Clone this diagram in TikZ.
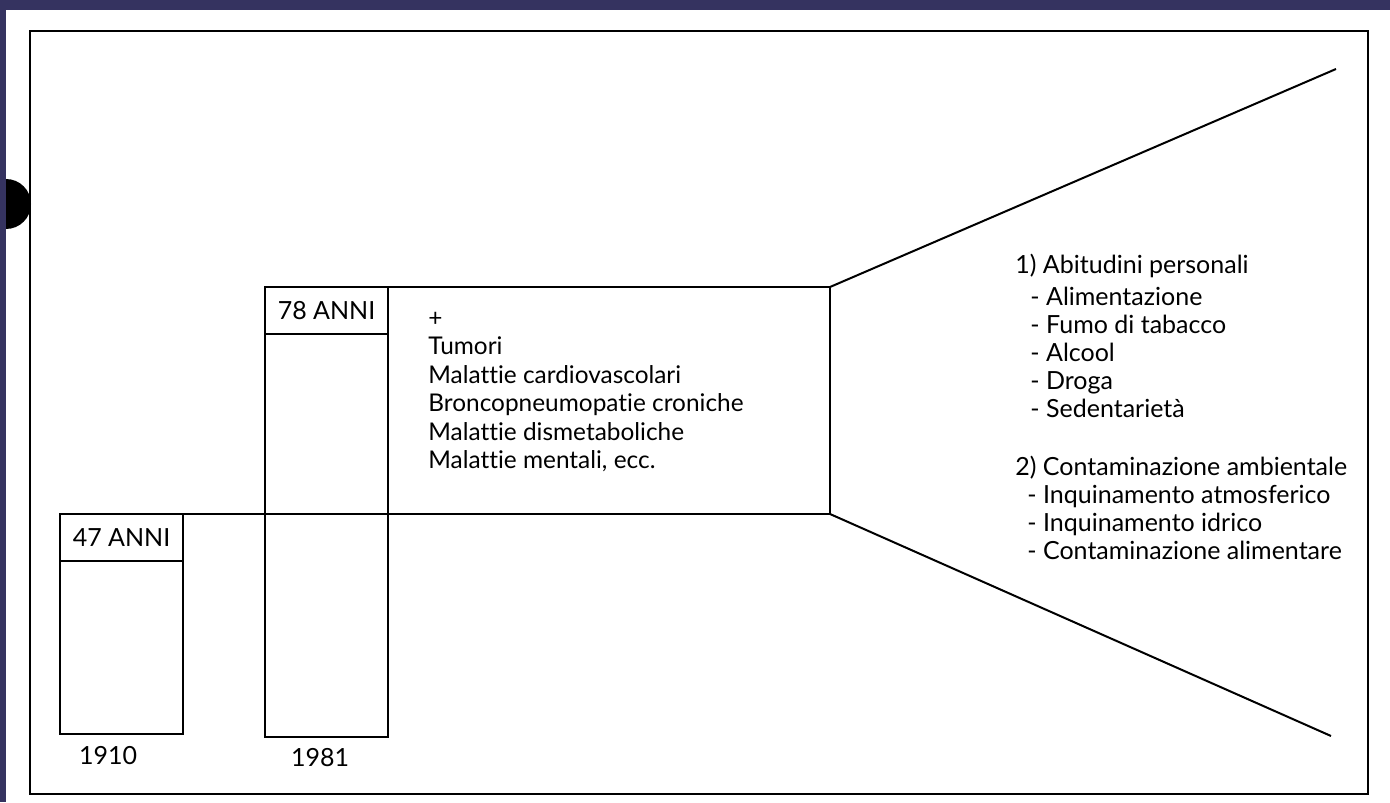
\documentclass[tikz,border=0pt]{standalone}
\usepackage{fontspec}
\setmainfont{Lato}[Ligatures=NoCommon]
\usepackage{xcolor}
\usepackage{tikz}
\usetikzlibrary{positioning}
\definecolor{scanborder}{RGB}{53,51,96}

\begin{document}
\begin{tikzpicture}[x=0.5pt, y=-0.5pt]
\tikzstyle{cell} = [rectangle, draw, line width=1pt, inner sep=0pt, outer sep=0pt, minimum width=61.5pt, font=\fontsize{12.5}{14}\selectfont]
\tikzstyle{txt} = [inner sep=0pt, align=left, font=\fontsize{12.5}{14}\selectfont]
\tikzstyle{fan} = [line width=1pt]

\useasboundingbox (0,0) rectangle (1390,802);
\fill[scanborder] (0,0) rectangle (1390,802);
\fill[white] (6,10) rectangle (1390,802);
\fill[black] (6,204) circle [radius=12.5pt];
\fill[scanborder] (0,10) rectangle (6,802);
\draw[line width=1.2pt] (30,31) rectangle (1368,794);

\node (hdr47) [cell, minimum height=23.5pt, anchor=north west] at (60,514) {47 ANNI};
\node (bar47) [cell, minimum height=86.5pt, below=0pt of hdr47] {};
\node (yr1910) [txt] at (108,756) {1910};

\node (hdr78) [cell, minimum height=23.5pt, anchor=north west] at (265,287) {78 ANNI};
\node (bar78) [cell, minimum height=201.5pt, below=0pt of hdr78] {};
\node (yr1981) [txt] at (320,758) {1981};

\node (causes) [cell, minimum width=221pt, minimum height=113.5pt, anchor=north west] at (hdr78.north east) {};
\node (diseases) [txt, anchor=north west, font=\fontsize{12.2}{14.25}\selectfont] at (428,306) {\strut+\\Tumori\\Malattie cardiovascolari\\Broncopneumopatie croniche\\Malattie dismetaboliche\\Malattie mentali, ecc.};

\coordinate (topend) at (1336,69);
\coordinate (botend) at (1331,736);
\draw [fan] (hdr47.north east) -- (causes.south west);
\draw [fan] (causes.north east) -- (topend);
\draw [fan] (causes.south east) -- (botend);

\node (factors) [txt, anchor=north west] at (1015,253) {\strut1) Abitudini personali\\[2pt]
\hspace*{7.5pt}- Alimentazione\\
\hspace*{7.5pt}- Fumo di tabacco\\
\hspace*{7.5pt}- Alcool\\
\hspace*{7.5pt}- Droga\\
\hspace*{7.5pt}- Sedentarietà\\[15pt]
2) Contaminazione ambientale\\
\hspace*{6pt}- Inquinamento atmosferico\\
\hspace*{6pt}- Inquinamento idrico\\
\hspace*{6pt}- Contaminazione alimentare};

\end{tikzpicture}
\end{document}
